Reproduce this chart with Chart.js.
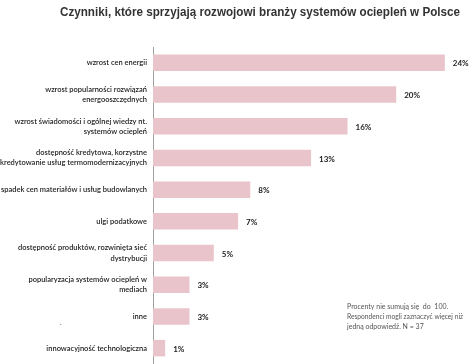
<!DOCTYPE html>
<html>
<head>
<meta charset="utf-8">
<script src="https://cdn.jsdelivr.net/npm/chart.js@4"></script>
<style>
  html, body { margin: 0; padding: 0; background: #fff; }
  #wrap { width: 470px; height: 364px; position: relative; }
</style>
</head>
<body>
<div id="wrap"><canvas id="chart" width="470" height="364"></canvas></div>
<script>
// data
const categories = [
    ['wzrost cen energii'],
    ['wzrost popularności rozwiązań', 'energooszczędnych'],
    ['wzrost świadomości i ogólnej wiedzy nt.', 'systemów ociepleń'],
    ['dostępność kredytowa, korzystne', 'kredytowanie usług termomodernizacyjnych'],
    ['spadek cen materiałów i usług budowlanych'],
    ['ulgi podatkowe'],
    ['dostępność produktów, rozwinięta sieć', 'dystrybucji'],
    ['popularyzacja systemów ociepleń w', 'mediach'],
    ['inne'],
    ['innowacyjność technologiczna']
];
const percents = [24, 20, 16, 13, 8, 7, 5, 3, 3, 1];
const titleText = 'Czynniki, które sprzyjają rozwojowi branży systemów ociepleń w Polsce';
const noteLines = [
    'Procenty nie sumują się  do  100.',
    'Respondenci mogli zaznaczyć więcej niż',
    'jedną odpowiedź. N = 37'
];

const extras = {
    id: 'extras',
    afterDraw(chart) {
        const ctx = chart.ctx;
        ctx.save();
        // title
        ctx.fillStyle = '#333';
        ctx.font = 'bold 12px "Liberation Sans", Arial, sans-serif';
        ctx.textAlign = 'left';
        ctx.textBaseline = 'middle';
        ctx.fillText(titleText, 60, 13, 400);

        // value labels
        const meta = chart.getDatasetMeta(0);
        ctx.font = 'bold 8px Lato, sans-serif';
        ctx.fillStyle = '#222';
        meta.data.forEach((bar, i) => {
            ctx.fillText(percents[i] + '%', bar.x + 8, bar.y + 1);
        });

        // footnote
        ctx.font = '7px Lato, sans-serif';
        ctx.fillStyle = '#555';
        noteLines.forEach((line, i) => {
            ctx.fillText(line, 347, 307 + i * 10, 116);
        });
        ctx.fillText('.', 60, 323);
        ctx.restore();
    }
};

new Chart(document.getElementById('chart'), {
    type: 'bar',
    data: {
        labels: categories,
        datasets: [{
            data: percents,
            backgroundColor: '#e9c4ca',
            borderWidth: 0,
            barPercentage: 1,
            categoryPercentage: 0.52
        }]
    },
    options: {
        indexAxis: 'y',
        responsive: false,
        animation: false,
        layout: { padding: { top: 47, right: 13, bottom: -2, left: 0 } },
        plugins: { legend: { display: false }, tooltip: { enabled: false }, title: { display: false } },
        scales: {
            x: { display: false, min: 0, max: 25 },
            y: {
                afterFit(scale) {
                    scale.width = 153;
                    scale.paddingTop = 0;
                    scale.paddingBottom = 0;
                },
                grid: { display: false, drawTicks: false },
                border: { display: true, color: '#a0a0a0', width: 1 },
                ticks: {
                    color: '#222',
                    padding: 6,
                    font: { family: 'Lato, sans-serif', size: 7.5, weight: '600', lineHeight: 1.35 }
                }
            }
        }
    },
    plugins: [extras]
});
</script>
</body>
</html>
